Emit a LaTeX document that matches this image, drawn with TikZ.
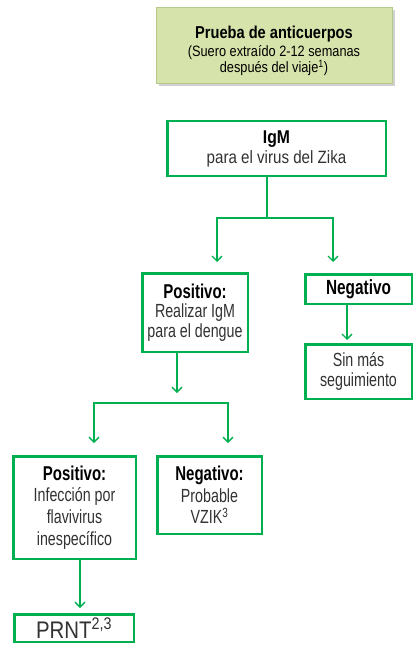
\documentclass[tikz,border=0pt]{standalone}
\usepackage{fontspec}
\setmainfont{Liberation Sans}[FakeStretch=0.85]
\newfontfamily\narrowfont{Liberation Sans}[FakeStretch=0.75]
\usetikzlibrary{arrows.meta,positioning}
\definecolor{zg}	{RGB}	{0,176,80}
\definecolor{zfill}	{RGB}	{214,227,170}
\definecolor{zedge}	{RGB}	{181,201,138}
\definecolor{ztxt}	{RGB}	{50,50,50}
\newcommand{\boxhead}[2][20]{{\fontsize{#1}{21}\selectfont\bfseries\color{black}#2}}
\newcommand{\tightlines}{\lineskiplimit 0pt\lineskip 0.5pt\relax}

\begin{document}
\begin{tikzpicture}[x=1pt, y=-1pt,
    every node/.append style={align=center, inner sep=0pt},
    box/.style={draw=zg, line width=2.5pt, fill=white, text=ztxt,
                font=\narrowfont\fontsize{19}{#1}\selectfont},
    box/.default=20.5,
    topbox/.style={draw=zedge, line width=0.8pt, fill=zfill, text=black,
                   font=\fontsize{15}{15}\selectfont\tightlines},
    wire/.style={draw=zg, line width=1.3pt},
    arr/.style={wire, -{Straight Barb[length=5pt,width=10pt]}}]
  \useasboundingbox (0,0) rectangle (417,647);

  % shadow of the top box
  \fill[black!30, opacity=.6] (159,10) rectangle (395,86);
  \node (test) [topbox, minimum width=236, minimum height=76] at (274,45)
        {\rule{0pt}{24pt}{\fontsize{17.2}{17}\selectfont\bfseries Prueba de anticuerpos}\\[3pt]
         (Suero extraído 2-12 semanas\\
         después del viaje\textsuperscript{1})};

  \node (igm) [box=20, font=\rmfamily\fontsize{17.8}{20}\selectfont,
               minimum width=218.5, minimum height=54.5] at (276.5,148.5)
        {\boxhead[18.5]{IgM}\\ para el virus del Zika};

  \node (pos1) [box=19.5, minimum width=105.5, minimum height=78.5] at (195,312.5)
        {\boxhead{Positivo:}\\ Realizar IgM\\ para el dengue};
  \node (neg1) [box, minimum width=106.5, minimum height=29.5] at (358.5,289)
        {\boxhead[20.5]{Negativo}};
  \node (sinmas) [box=20.5, minimum width=106.5, minimum height=54.5] at (358.5,371.5)
        {Sin más\\ seguimiento};

  \node (pos2) [box=21.7, minimum width=122.5, minimum height=102.5] at (74.5,507.5)
        {\boxhead{Positivo:}\\ Infección por\\ flavivirus\\ inespecífico};
  \node (neg2) [box=21.7, minimum width=104.5, minimum height=77.5] at (209.5,495)
        {\boxhead{Negativo:}\\ Probable\\ VZIK\textsuperscript{3}};
  \node (prnt) [box, font=\rmfamily\fontsize{24}{25}\selectfont,
                minimum width=119.5, minimum height=27.5] at (74,628)
        {PRNT\textsuperscript{2,3}};

  % forks and arrow ends
  \coordinate (fork1) at (267,218);
  \coordinate (inpos1) at (217,262);
  \coordinate (inneg1) at (333,262);
  \coordinate (insin) at (347,340);
  \coordinate (outpos1) at (177,393);
  \coordinate (fork2) at (161,403);
  \coordinate (inpos2) at (94,443);
  \coordinate (inneg2) at (228,443);
  \coordinate (inprnt) at (80,608);

  \draw[wire] (igm.south -| fork1) -- (fork1);
  \draw[arr] (fork1) -| (inpos1);
  \draw[arr] (fork1) -| (inneg1);
  \draw[arr] (neg1.south -| insin) -- (insin);
  \draw[arr] (pos1.south -| outpos1) -- (outpos1);
  \draw[arr] (fork2) -| (inpos2);
  \draw[arr] (fork2) -| (inneg2);
  \draw[arr] (pos2.south -| inprnt) -- (inprnt);
\end{tikzpicture}
\end{document}
